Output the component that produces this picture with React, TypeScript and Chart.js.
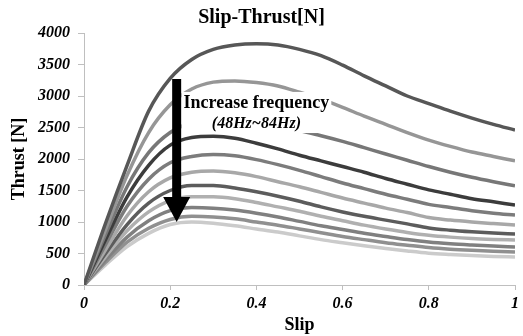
import React, { useEffect, useRef } from "react";
import { Chart, registerables } from "chart.js";

Chart.register(...registerables);

// ---- data ----
const slip = [0, 0.05, 0.1, 0.15, 0.2, 0.25, 0.3, 0.35, 0.4, 0.45, 0.5, 0.55, 0.6, 0.65, 0.7, 0.75, 0.8, 0.85, 0.9, 0.95, 1.0];

const thrust48 = [0, 980, 1900, 2760, 3280, 3580, 3740, 3810, 3830, 3810, 3740, 3640, 3490, 3320, 3160, 3000, 2880, 2760, 2650, 2550, 2460];
const thrust51 = [0, 880, 1740, 2420, 2860, 3110, 3220, 3240, 3215, 3160, 3060, 2950, 2820, 2680, 2550, 2420, 2300, 2200, 2110, 2040, 1970];
const thrust54 = [0, 800, 1560, 2100, 2420, 2580, 2640, 2630, 2590, 2530, 2450, 2370, 2280, 2180, 2080, 1980, 1880, 1790, 1710, 1640, 1575];
const thrust57 = [0, 720, 1400, 1900, 2220, 2340, 2360, 2330, 2250, 2160, 2060, 1970, 1880, 1790, 1690, 1600, 1510, 1440, 1370, 1320, 1270];
const thrust60 = [0, 640, 1250, 1680, 1940, 2040, 2070, 2050, 1990, 1910, 1820, 1720, 1620, 1530, 1440, 1360, 1280, 1230, 1180, 1140, 1110];
const thrust63 = [0, 560, 1100, 1480, 1700, 1790, 1810, 1780, 1720, 1640, 1560, 1470, 1380, 1300, 1220, 1150, 1070, 1030, 1000, 975, 952];
const thrust66 = [0, 500, 960, 1300, 1500, 1580, 1580, 1540, 1480, 1410, 1330, 1240, 1160, 1090, 1030, 970, 905, 870, 845, 825, 810];
const thrust69 = [0, 450, 860, 1160, 1340, 1400, 1400, 1370, 1310, 1240, 1170, 1090, 1020, 950, 890, 835, 790, 760, 738, 724, 714];
const thrust72 = [0, 400, 760, 1020, 1180, 1230, 1220, 1190, 1140, 1080, 1010, 940, 880, 820, 770, 722, 682, 655, 635, 618, 603];
const thrust78 = [0, 360, 680, 900, 1040, 1090, 1080, 1050, 1000, 950, 890, 830, 770, 720, 672, 632, 594, 568, 550, 536, 524];
const thrust84 = [0, 320, 610, 820, 960, 1000, 980, 940, 890, 840, 780, 720, 670, 622, 580, 540, 505, 484, 467, 454, 444];

const seriesNames = ["48Hz", "51Hz", "54Hz", "57Hz", "60Hz", "63Hz", "66Hz", "69Hz", "72Hz", "78Hz", "84Hz"];
const seriesValues = [thrust48, thrust51, thrust54, thrust57, thrust60, thrust63, thrust66, thrust69, thrust72, thrust78, thrust84];
const seriesColors = ["#575757", "#969696", "#777777", "#3c3c3c", "#7c7c7c", "#a8a8a8", "#5c5c5c", "#b0b0b0", "#808080", "#909090", "#cbcbcb"];

const yTicks = [0, 500, 1000, 1500, 2000, 2500, 3000, 3500, 4000];
const xTicks = [0, 0.2, 0.4, 0.6, 0.8, 1];

const titleText = "Slip-Thrust[N]";
const xTitle = "Slip";
const yTitle = "Thrust [N]";
const noteMain = "Increase frequency";
const noteSub = "(48Hz~84Hz)";
const noteSlip = 0.4;
const noteMainThrust = 2890;
const noteSubThrust = 2555;
const arrowSlip = 0.215;
const arrowFrom = 3270;
const arrowTo = 1000;

const SERIF = '"Liberation Serif", "Times New Roman", serif';

const overlay = {
  id: "overlay",
  afterDatasetsDraw(chart: any) {
    const { ctx, chartArea, scales } = chart;
    const x = scales.x;
    const y = scales.y;
    ctx.save();
    ctx.fillStyle = "#000";
    ctx.textAlign = "center";
    ctx.textBaseline = "middle";

    // note text with white box
    const cx = x.getPixelForValue(noteSlip);
    const y1 = y.getPixelForValue(noteMainThrust);
    const y2 = y.getPixelForValue(noteSubThrust);
    ctx.font = `bold 18px ${SERIF}`;
    const w1 = ctx.measureText(noteMain).width;
    ctx.fillStyle = "#fff";
    ctx.fillRect(cx - w1 / 2 - 2, y1 - 11, w1 + 4, y2 - y1 + 20);
    ctx.fillStyle = "#000";
    ctx.fillText(noteMain, cx, y1);
    ctx.font = `italic bold 16px ${SERIF}`;
    ctx.fillText(noteSub, cx, y2);

    // arrow
    const ax = x.getPixelForValue(arrowSlip);
    const ay0 = y.getPixelForValue(arrowFrom);
    const ay1 = y.getPixelForValue(arrowTo);
    const headLen = 25;
    const headHalf = 13.5;
    const shaftHalf = 4.5;
    ctx.beginPath();
    ctx.moveTo(ax - shaftHalf, ay0);
    ctx.lineTo(ax + shaftHalf, ay0);
    ctx.lineTo(ax + shaftHalf, ay1 - headLen);
    ctx.lineTo(ax + headHalf, ay1 - headLen);
    ctx.lineTo(ax, ay1);
    ctx.lineTo(ax - headHalf, ay1 - headLen);
    ctx.lineTo(ax - shaftHalf, ay1 - headLen);
    ctx.closePath();
    ctx.fill();

    // titles
    ctx.font = `bold 20px ${SERIF}`;
    ctx.fillText(titleText, chart.width / 2, 18);
    ctx.font = `bold 18px ${SERIF}`;
    ctx.fillText(xTitle, (chartArea.left + chartArea.right) / 2, 325);
    ctx.translate(19, (chartArea.top + chartArea.bottom) / 2);
    ctx.rotate(-Math.PI / 2);
    ctx.fillText(yTitle, 0, 0);
    ctx.restore();
  },
};

export default function App() {
  const ref = useRef<HTMLCanvasElement | null>(null);
  useEffect(() => {
    document.body.style.margin = "0";
    const canvas = ref.current!;
    const datasets = seriesValues.map((vals, i) => ({
      label: seriesNames[i],
      data: slip.map((s, j) => ({ x: s, y: vals[j] })),
      borderColor: seriesColors[i],
      backgroundColor: seriesColors[i],
      borderWidth: 3.5,
      pointRadius: 0,
      cubicInterpolationMode: "monotone" as const,
      fill: false,
    }));
    const chart = new Chart(canvas, {
      type: "line",
      data: { datasets },
      options: {
        responsive: false,
        animation: false,
        layout: { padding: { top: 33, right: 5, left: 0, bottom: 0 } },
        plugins: { legend: { display: false }, tooltip: { enabled: false }, title: { display: false } },
        scales: {
          x: {
            type: "linear",
            min: 0,
            max: 1,
            afterFit: (s: any) => { s.height = 51; },
            afterBuildTicks: (s: any) => { s.ticks = xTicks.map((v) => ({ value: v })); },
            ticks: {
              color: "#000",
              font: { family: SERIF, size: 16, weight: "bold", style: "italic" },
              padding: 4,
              maxRotation: 0,
              callback: (v: any) => String(v),
            },
            grid: { drawOnChartArea: false, drawTicks: true, tickLength: 5, color: "#bfbfbf" },
            border: { display: true, color: "#bfbfbf" },
          },
          y: {
            type: "linear",
            min: 0,
            max: 4000,
            afterFit: (s: any) => { s.width = 84; },
            afterBuildTicks: (s: any) => { s.ticks = yTicks.map((v) => ({ value: v })); },
            ticks: {
              color: "#000",
              font: { family: SERIF, size: 16, weight: "bold", style: "italic" },
              padding: 8,
              callback: (v: any) => String(v),
            },
            grid: { drawOnChartArea: false, drawTicks: true, tickLength: 6, color: "#bfbfbf" },
            border: { display: true, color: "#bfbfbf" },
          },
        },
      },
      plugins: [overlay],
    });
    return () => chart.destroy();
  }, []);
  return <canvas ref={ref} width={523} height={336} style={{ display: "block" }} />;
}
